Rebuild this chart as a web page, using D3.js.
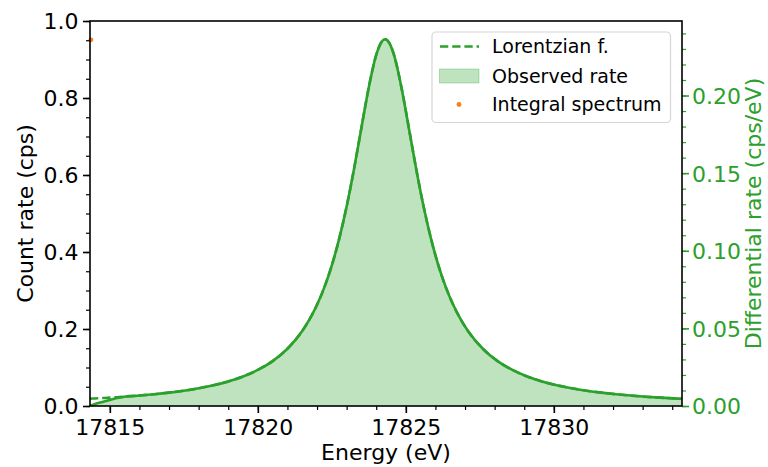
<!DOCTYPE html>
<html>
<head>
<meta charset="utf-8">
<script src="https://cdn.jsdelivr.net/npm/d3@7"></script>
<style>
  html, body { margin: 0; padding: 0; background: #fff; }
  svg { display: block; }
  text { font-family: "DejaVu Sans", sans-serif; }
</style>
</head>
<body>
<svg id="chart" width="768" height="467"></svg>
<script>
// Energy grid (eV)
const energy = [
  17814.33, 17814.5, 17814.75, 17815.0, 17815.25, 17815.5, 17816.0, 17816.5, 17817.0, 17817.5,
  17818.0, 17818.5, 17819.0, 17819.5, 17820.0, 17820.5, 17821.0, 17821.5, 17821.75, 17822.0,
  17822.25, 17822.5, 17822.75, 17823.0, 17823.25, 17823.5, 17823.75, 17824.0, 17824.15, 17824.3,
  17824.45, 17824.6, 17824.85, 17825.1, 17825.35, 17825.6, 17825.85, 17826.1, 17826.35, 17826.6,
  17826.85, 17827.1, 17827.6, 17828.1, 17828.6, 17829.1, 17829.6, 17830.1, 17830.6, 17831.1,
  17831.6, 17832.1, 17832.6, 17833.1, 17833.6, 17834.33
];

// Lorentzian fit, differential rate (cps/eV)
const lorentzian = [
  0.00470, 0.00486, 0.00511, 0.00538, 0.00567, 0.00599, 0.00672, 0.00758, 0.00861, 0.00987,
  0.01142, 0.01336, 0.01582, 0.01900, 0.02323, 0.02894, 0.03690, 0.04832, 0.05591, 0.06519,
  0.07658, 0.09061, 0.10778, 0.12850, 0.15270, 0.17930, 0.20539, 0.22611, 0.23359, 0.23620,
  0.23359, 0.22611, 0.20539, 0.17930, 0.15270, 0.12850, 0.10778, 0.09061, 0.07658, 0.06519,
  0.05591, 0.04832, 0.03690, 0.02894, 0.02323, 0.01900, 0.01582, 0.01336, 0.01142, 0.00987,
  0.00861, 0.00758, 0.00672, 0.00599, 0.00538, 0.00464
];

// Observed differential rate (cps/eV), cut off at the low-energy edge
const observed = [
  0.00000, 0.00124, 0.00261, 0.00392, 0.00509, 0.00599, 0.00672, 0.00758, 0.00861, 0.00987,
  0.01142, 0.01336, 0.01582, 0.01900, 0.02323, 0.02894, 0.03690, 0.04832, 0.05591, 0.06519,
  0.07658, 0.09061, 0.10778, 0.12850, 0.15270, 0.17930, 0.20539, 0.22611, 0.23359, 0.23620,
  0.23359, 0.22611, 0.20539, 0.17930, 0.15270, 0.12850, 0.10778, 0.09061, 0.07658, 0.06519,
  0.05591, 0.04832, 0.03690, 0.02894, 0.02323, 0.01900, 0.01582, 0.01336, 0.01142, 0.00987,
  0.00861, 0.00758, 0.00672, 0.00599, 0.00538, 0.00464
];

// Integral spectrum (count rate, cps)
const integralEnergy = [17814.36];
const integralRate = [0.951];

// Axis ticks
const xTicks = [17815, 17820, 17825, 17830];
const leftTicks = [0.0, 0.2, 0.4, 0.6, 0.8, 1.0];
const rightTicks = [0.00, 0.05, 0.10, 0.15, 0.20];

const legendLabels = ["Lorentzian f.", "Observed rate", "Integral spectrum"];

const GREEN = "#2ca02c";
const ORANGE = "#ff7f0e";

const svg = d3.select("#chart");
const m = { left: 90, right: 682, top: 21, bottom: 406 };

const x = d3.scaleLinear().domain([17814.33, 17834.33]).range([m.left, m.right]);
const yLeft = d3.scaleLinear().domain([0, 1]).range([m.bottom, m.top]);
const yRight = d3.scaleLinear().domain([0, 0.248]).range([m.bottom, m.top]);

svg.append("defs").append("clipPath").attr("id", "plotclip")
  .append("rect")
  .attr("x", m.left).attr("y", m.top)
  .attr("width", m.right - m.left).attr("height", m.bottom - m.top);

const plot = svg.append("g").attr("clip-path", "url(#plotclip)");

const rows = energy.map((e, i) => ({ e, lor: lorentzian[i], obs: observed[i] }));

// Observed rate: shaded area
plot.append("path")
  .datum(rows)
  .attr("d", d3.area()
    .x(d => x(d.e)).y0(yRight(0)).y1(d => yRight(d.obs))
    .curve(d3.curveMonotoneX))
  .attr("fill", GREEN).attr("fill-opacity", 0.3).attr("stroke", "none");

// Lorentzian fit: dashed
plot.append("path")
  .datum(rows)
  .attr("d", d3.line().x(d => x(d.e)).y(d => yRight(d.lor)).curve(d3.curveMonotoneX))
  .attr("fill", "none").attr("stroke", GREEN).attr("stroke-width", 2.6)
  .attr("stroke-dasharray", "8.3,3.9");

// Observed rate outline
plot.append("path")
  .datum(rows)
  .attr("d", d3.line().x(d => x(d.e)).y(d => yRight(d.obs)).curve(d3.curveMonotoneX))
  .attr("fill", "none").attr("stroke", GREEN).attr("stroke-width", 2.6);

// Integral spectrum points
svg.append("g").selectAll("circle")
  .data(integralEnergy.map((e, i) => ({ e, v: integralRate[i] })))
  .join("circle")
  .attr("cx", d => x(d.e)).attr("cy", d => yLeft(d.v))
  .attr("r", 2.4).attr("fill", ORANGE);

// Axes
function styleAxis(g, color, fontSize) {
  g.select(".domain").remove();
  g.selectAll(".tick line").attr("stroke", color).attr("stroke-width", 1.6);
  g.selectAll(".tick text").attr("fill", color).style("font-size", fontSize + "px")
    .style("font-family", "'DejaVu Sans', sans-serif");
}

// Bottom axis
const xMinor = d3.range(17815, 17835, 1);
svg.append("g").attr("transform", `translate(0,${m.bottom})`)
  .call(d3.axisBottom(x).tickValues(xMinor).tickSize(4).tickFormat(""))
  .call(g => { g.select(".domain").remove(); g.selectAll(".tick line").attr("stroke", "#000").attr("stroke-width", 1.2); });
const xAxis = svg.append("g").attr("transform", `translate(0,${m.bottom})`)
  .call(d3.axisBottom(x).tickValues(xTicks).tickSize(7).tickPadding(6).tickFormat(d3.format("d")));
styleAxis(xAxis, "#000", 22);
xAxis.selectAll(".tick text").attr("dy", null).attr("y", 29);

// Left axis
const leftMinor = d3.range(0, 1.0001, 0.05);
svg.append("g").attr("transform", `translate(${m.left},0)`)
  .call(d3.axisLeft(yLeft).tickValues(leftMinor).tickSize(4).tickFormat(""))
  .call(g => { g.select(".domain").remove(); g.selectAll(".tick line").attr("stroke", "#000").attr("stroke-width", 1.2); });
const leftAxis = svg.append("g").attr("transform", `translate(${m.left},0)`)
  .call(d3.axisLeft(yLeft).tickValues(leftTicks).tickSize(7).tickPadding(5).tickFormat(d3.format(".1f")));
styleAxis(leftAxis, "#000", 22);
leftAxis.selectAll(".tick text").attr("dy", "0.36em").attr("x", -11.5);

// Right axis
const rightMinor = d3.range(0, 0.2481, 0.01);
svg.append("g").attr("transform", `translate(${m.right},0)`)
  .call(d3.axisRight(yRight).tickValues(rightMinor).tickSize(4).tickFormat(""))
  .call(g => { g.select(".domain").remove(); g.selectAll(".tick line").attr("stroke", GREEN).attr("stroke-width", 1.2); });
const rightAxis = svg.append("g").attr("transform", `translate(${m.right},0)`)
  .call(d3.axisRight(yRight).tickValues(rightTicks).tickSize(7).tickPadding(4).tickFormat(d3.format(".2f")));
styleAxis(rightAxis, GREEN, 22);
rightAxis.selectAll(".tick text").attr("dy", "0.36em").attr("x", 10);

// Frame
svg.append("rect")
  .attr("x", m.left).attr("y", m.top)
  .attr("width", m.right - m.left).attr("height", m.bottom - m.top)
  .attr("fill", "none").attr("stroke", "#000").attr("stroke-width", 1.6);

// Axis labels
svg.append("text")
  .attr("x", (m.left + m.right) / 2).attr("y", 460)
  .attr("text-anchor", "middle").style("font-size", "22px").attr("fill", "#000")
  .text("Energy (eV)");

svg.append("text")
  .attr("transform", `translate(33,${(m.top + m.bottom) / 2}) rotate(-90)`)
  .attr("text-anchor", "middle").style("font-size", "22px").attr("fill", "#000")
  .text("Count rate (cps)");

svg.append("text")
  .attr("transform", `translate(761,${(m.top + m.bottom) / 2}) rotate(-90)`)
  .attr("text-anchor", "middle").style("font-size", "22px").attr("fill", GREEN)
  .text("Differential rate (cps/eV)");

// Legend
const lg = svg.append("g");
lg.append("rect")
  .attr("x", 432).attr("y", 32).attr("width", 238.5).attr("height", 90.5)
  .attr("rx", 4).attr("ry", 4)
  .attr("fill", "#fff").attr("fill-opacity", 0.8)
  .attr("stroke", "#d6d6d6").attr("stroke-width", 1.2);

const rowY = [46.5, 76, 104.5];
lg.append("line")
  .attr("x1", 440).attr("x2", 479).attr("y1", rowY[0]).attr("y2", rowY[0])
  .attr("stroke", GREEN).attr("stroke-width", 2.6).attr("stroke-dasharray", "8.3,3.9");
lg.append("rect")
  .attr("x", 439.5).attr("y", 69).attr("width", 39.5).attr("height", 14)
  .attr("fill", GREEN).attr("fill-opacity", 0.3)
  .attr("stroke", GREEN).attr("stroke-opacity", 0.3).attr("stroke-width", 1);
lg.append("circle").attr("cx", 459).attr("cy", rowY[2]).attr("r", 2.4).attr("fill", ORANGE);

lg.selectAll("text.lbl").data(legendLabels).join("text")
  .attr("class", "lbl")
  .attr("x", 492).attr("y", (d, i) => rowY[i]).attr("dy", "0.36em")
  .style("font-size", "19px").attr("fill", "#000")
  .text(d => d);
</script>
</body>
</html>
